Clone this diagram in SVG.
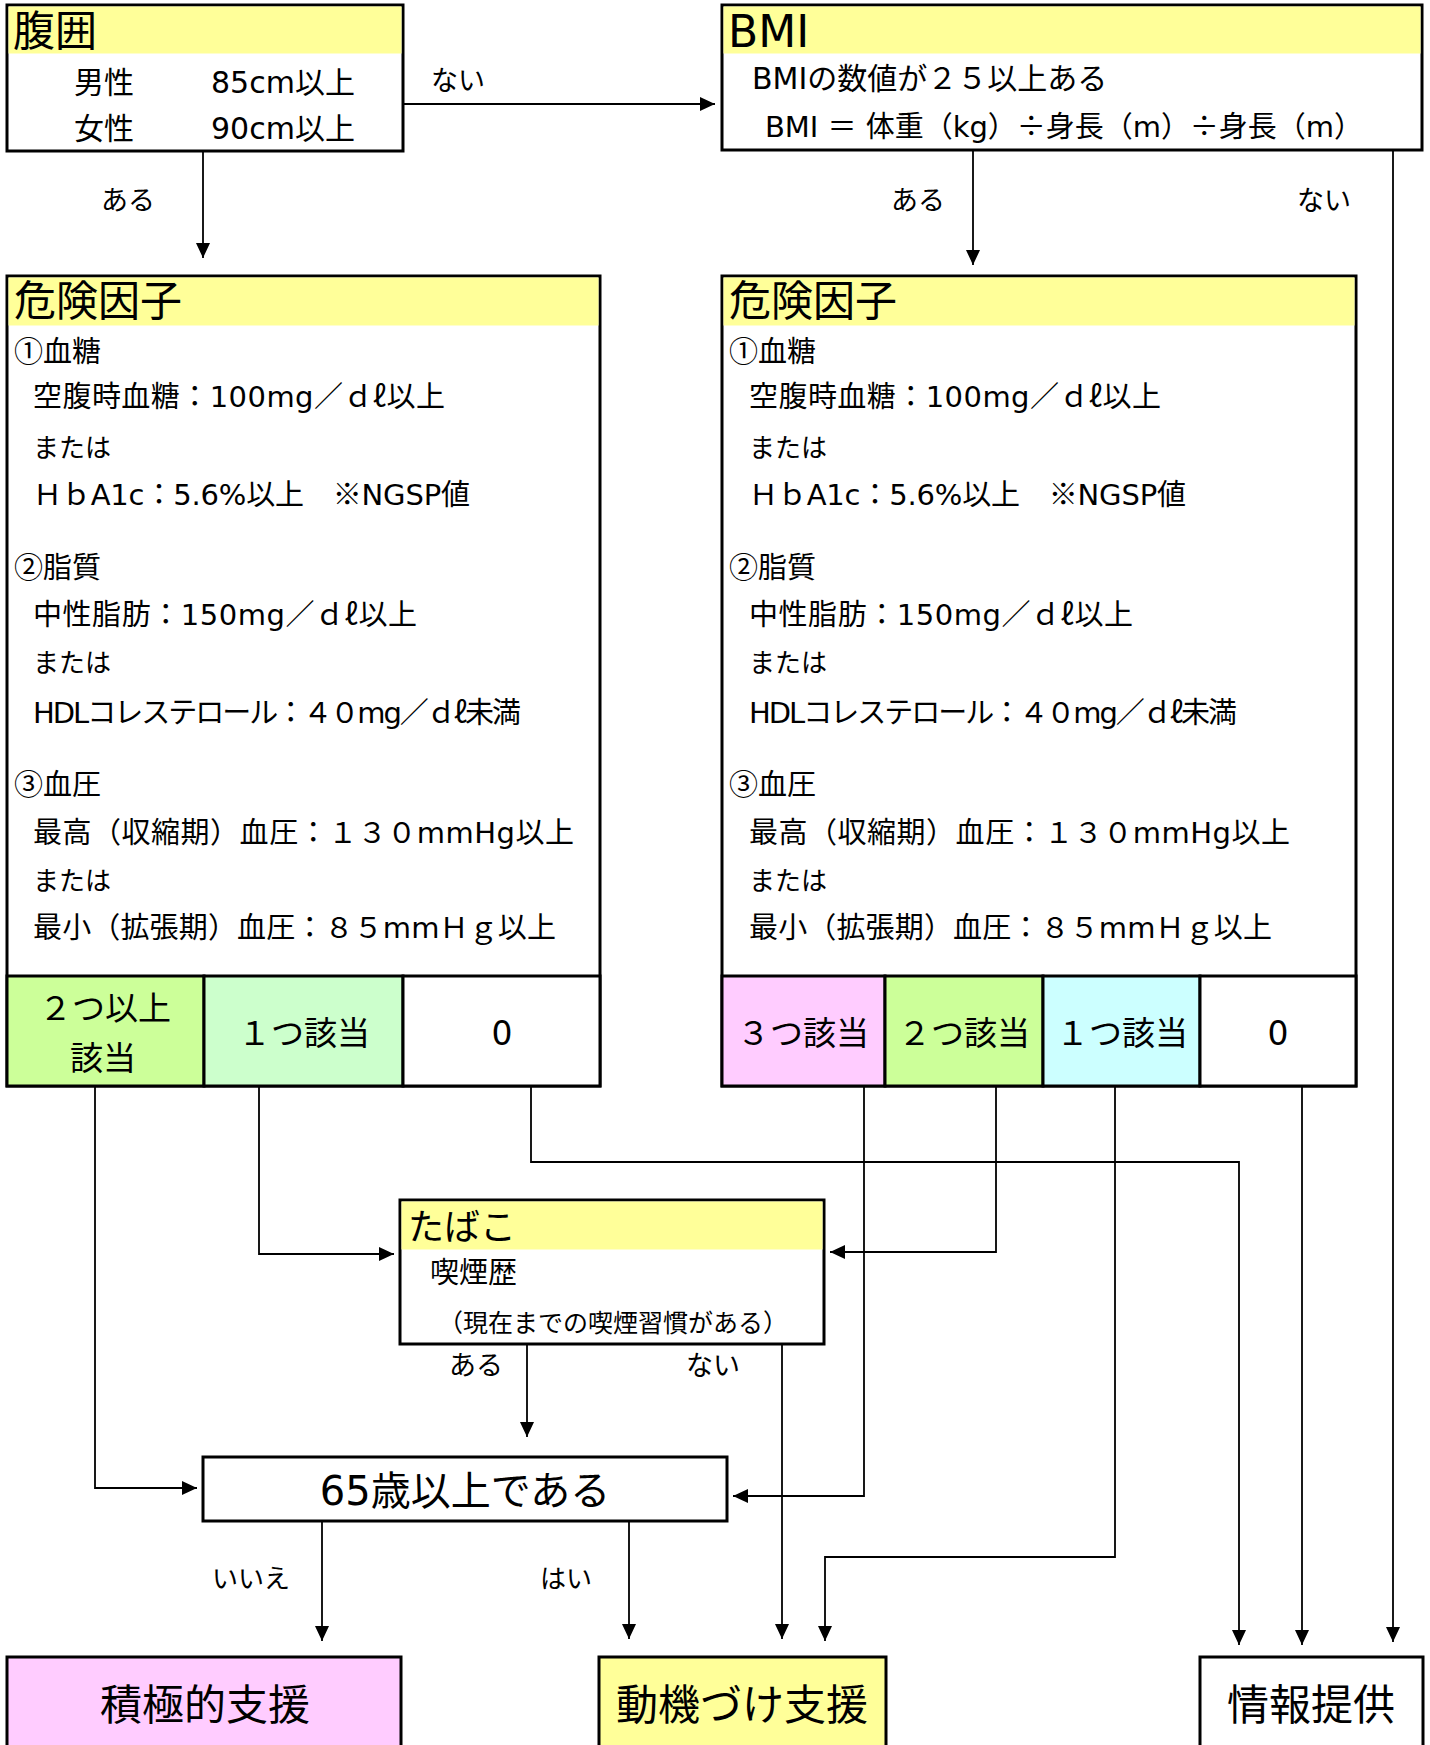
<svg xmlns="http://www.w3.org/2000/svg" width="1430" height="1745" viewBox="0 0 1430 1745">
<defs>
<marker id="ah" markerUnits="userSpaceOnUse" markerWidth="16" markerHeight="14" refX="15" refY="7" orient="auto"><path d="M0,0 L15,7 L0,14 z" fill="#000"/></marker>
<style>
text{font-family:"DejaVu Sans","Noto Sans CJK JP",sans-serif;fill:#000}
.j{font-family:"Noto Sans CJK JP",sans-serif}
.box{fill:#fff;stroke:#000;stroke-width:3}
.hdr{fill:#FFFF99}
.t{font-size:42px}
.b{font-size:29px}
.m{font-size:26px}
.w{font-size:30px}
.c{font-size:33px;text-anchor:middle}
.l{font-size:27px}
.big{font-size:42px;text-anchor:middle}
.ln{fill:none;stroke:#000;stroke-width:1.8}
.arr{marker-end:url(#ah)}
</style>
</defs>
<rect width="1430" height="1745" fill="#fff"/>

<g id="waist">
<rect class="box" x="7" y="5" width="396" height="146"/>
<rect class="hdr" x="8.5" y="6.5" width="393" height="47"/>
<text class="t" x="13" y="46">腹囲</text>
<text class="w" x="74" y="93">男性</text>
<text class="w" x="211" y="93">85cm以上</text>
<text class="w" x="74" y="139">女性</text>
<text class="w" x="211" y="139">90cm以上</text>
</g>

<g id="bmi">
<rect class="box" x="722" y="5" width="700" height="145"/>
<rect class="hdr" x="723.5" y="6.5" width="697" height="47"/>
<text x="728" y="47" style="font-size:44px">BMI</text>
<text class="w" x="752" y="89">BMIの数値が２５以上ある</text>
<text class="b" x="765" y="137" textLength="598" lengthAdjust="spacing">BMI ＝ 体重（kg）<tspan class="j">÷</tspan>身長（m）<tspan class="j">÷</tspan>身長（m）</text>
</g>

<g id="risk-left">
<rect class="box" x="7" y="276" width="593" height="810"/>
<rect class="hdr" x="8.5" y="277.5" width="590" height="48"/>
<text class="t" x="14" y="316">危険因子</text>
<text class="b" x="14" y="362"><tspan class="j">①</tspan>血糖</text>
<text class="b" x="33" y="407" textLength="412" lengthAdjust="spacing">空腹時血糖：100mg／ｄ<tspan class="j">ℓ</tspan>以上</text>
<text class="m" x="33" y="457">または</text>
<text class="b" x="33" y="505" textLength="437" lengthAdjust="spacing">ＨｂA1c：5.6%以上　<tspan class="j">※</tspan>NGSP値</text>
<text class="b" x="14" y="578"><tspan class="j">②</tspan>脂質</text>
<text class="b" x="33" y="625" textLength="384" lengthAdjust="spacing">中性脂肪：150mg／ｄ<tspan class="j">ℓ</tspan>以上</text>
<text class="m" x="33" y="672">または</text>
<text class="b" x="33" y="723" textLength="488" lengthAdjust="spacing">HDLコレステロール：４０mg／ｄ<tspan class="j">ℓ</tspan>未満</text>
<text class="b" x="14" y="795"><tspan class="j">③</tspan>血圧</text>
<text class="b" x="33" y="843" textLength="541" lengthAdjust="spacing">最高（収縮期）血圧：１３０mmHg以上</text>
<text class="m" x="33" y="890">または</text>
<text class="b" x="33" y="938" textLength="523" lengthAdjust="spacing">最小（拡張期）血圧：８５mmＨｇ以上</text>
</g>
<g id="cells-left">
<rect x="7" y="976" width="197" height="110" fill="#CCFF99" stroke="#000" stroke-width="3"/>
<rect x="204" y="976" width="199" height="110" fill="#CCFFCC" stroke="#000" stroke-width="3"/>
<rect x="403" y="976" width="197" height="110" fill="#fff" stroke="#000" stroke-width="3"/>
<text class="c" x="105" y="1020">２つ以上</text>
<text class="c" x="103" y="1070">該当</text>
<text class="c" x="304" y="1045">１つ該当</text>
<text class="c" x="502" y="1045">0</text>
</g>

<g id="risk-right">
<rect class="box" x="722" y="276" width="634" height="810"/>
<rect class="hdr" x="723.5" y="277.5" width="631" height="48"/>
<text class="t" x="729" y="316">危険因子</text>
<text class="b" x="729" y="362"><tspan class="j">①</tspan>血糖</text>
<text class="b" x="749" y="407" textLength="412" lengthAdjust="spacing">空腹時血糖：100mg／ｄ<tspan class="j">ℓ</tspan>以上</text>
<text class="m" x="749" y="457">または</text>
<text class="b" x="749" y="505" textLength="437" lengthAdjust="spacing">ＨｂA1c：5.6%以上　<tspan class="j">※</tspan>NGSP値</text>
<text class="b" x="729" y="578"><tspan class="j">②</tspan>脂質</text>
<text class="b" x="749" y="625" textLength="384" lengthAdjust="spacing">中性脂肪：150mg／ｄ<tspan class="j">ℓ</tspan>以上</text>
<text class="m" x="749" y="672">または</text>
<text class="b" x="749" y="723" textLength="488" lengthAdjust="spacing">HDLコレステロール：４０mg／ｄ<tspan class="j">ℓ</tspan>未満</text>
<text class="b" x="729" y="795"><tspan class="j">③</tspan>血圧</text>
<text class="b" x="749" y="843" textLength="541" lengthAdjust="spacing">最高（収縮期）血圧：１３０mmHg以上</text>
<text class="m" x="749" y="890">または</text>
<text class="b" x="749" y="938" textLength="523" lengthAdjust="spacing">最小（拡張期）血圧：８５mmＨｇ以上</text>
</g>
<g id="cells-right">
<rect x="722" y="976" width="163" height="110" fill="#FFCCFF" stroke="#000" stroke-width="3"/>
<rect x="885" y="976" width="158" height="110" fill="#CCFF99" stroke="#000" stroke-width="3"/>
<rect x="1043" y="976" width="157" height="110" fill="#CCFFFF" stroke="#000" stroke-width="3"/>
<rect x="1200" y="976" width="156" height="110" fill="#fff" stroke="#000" stroke-width="3"/>
<text class="c" x="803" y="1045">３つ該当</text>
<text class="c" x="964" y="1045">２つ該当</text>
<text class="c" x="1122" y="1045">１つ該当</text>
<text class="c" x="1278" y="1045">0</text>
</g>

<g id="tobacco">
<rect class="box" x="400" y="1200" width="424" height="144"/>
<rect class="hdr" x="401.5" y="1201.5" width="421" height="48"/>
<text x="408" y="1240" style="font-size:36px">たばこ</text>
<text class="b" x="430" y="1283">喫煙歴</text>
<text x="438" y="1332" style="font-size:25px">（現在までの喫煙習慣がある）</text>
</g>

<g id="age65">
<rect class="box" x="203" y="1457" width="524" height="64"/>
<text x="465" y="1505" style="font-size:40px;text-anchor:middle">65歳以上である</text>
</g>

<g id="active">
<rect x="7" y="1657" width="394" height="110" fill="#FFCCFF" stroke="#000" stroke-width="3"/>
<text class="big" x="205" y="1720">積極的支援</text>
</g>
<g id="motivation">
<rect x="599" y="1657" width="287" height="110" fill="#FFFF99" stroke="#000" stroke-width="3"/>
<text class="big" x="742" y="1720">動機づけ支援</text>
</g>
<g id="info">
<rect x="1200" y="1657" width="223" height="110" fill="#fff" stroke="#000" stroke-width="3"/>
<text class="big" x="1311" y="1720">情報提供</text>
</g>

<g id="connectors">
<path class="ln arr" d="M403,104 H715"/>
<path class="ln arr" d="M203,151 V258"/>
<path class="ln arr" d="M973,150 V265"/>
<path class="ln arr" d="M1393,150 V1642"/>
<path class="ln arr" d="M95,1086 V1488 H197"/>
<path class="ln arr" d="M259,1086 V1254 H394"/>
<path class="ln arr" d="M531,1086 V1162 H1239 V1645"/>
<path class="ln arr" d="M864,1086 V1496 H733"/>
<path class="ln arr" d="M996,1086 V1252 H830"/>
<path class="ln arr" d="M1115,1086 V1557 H825 V1641"/>
<path class="ln arr" d="M1302,1086 V1645"/>
<path class="ln arr" d="M527,1344 V1437"/>
<path class="ln arr" d="M782,1344 V1639"/>
<path class="ln arr" d="M322,1521 V1641"/>
<path class="ln arr" d="M629,1521 V1639"/>
</g>

<g id="labels">
<text class="l" x="431" y="90">ない</text>
<text class="l" x="101" y="210">ある</text>
<text class="l" x="891" y="210">ある</text>
<text class="l" x="1297" y="210">ない</text>
<text class="l" x="449" y="1375">ある</text>
<text class="l" x="686" y="1375">ない</text>
<text x="212" y="1588" style="font-size:26px">いいえ</text>
<text x="540" y="1588" style="font-size:26px">はい</text>
</g>
</svg>
